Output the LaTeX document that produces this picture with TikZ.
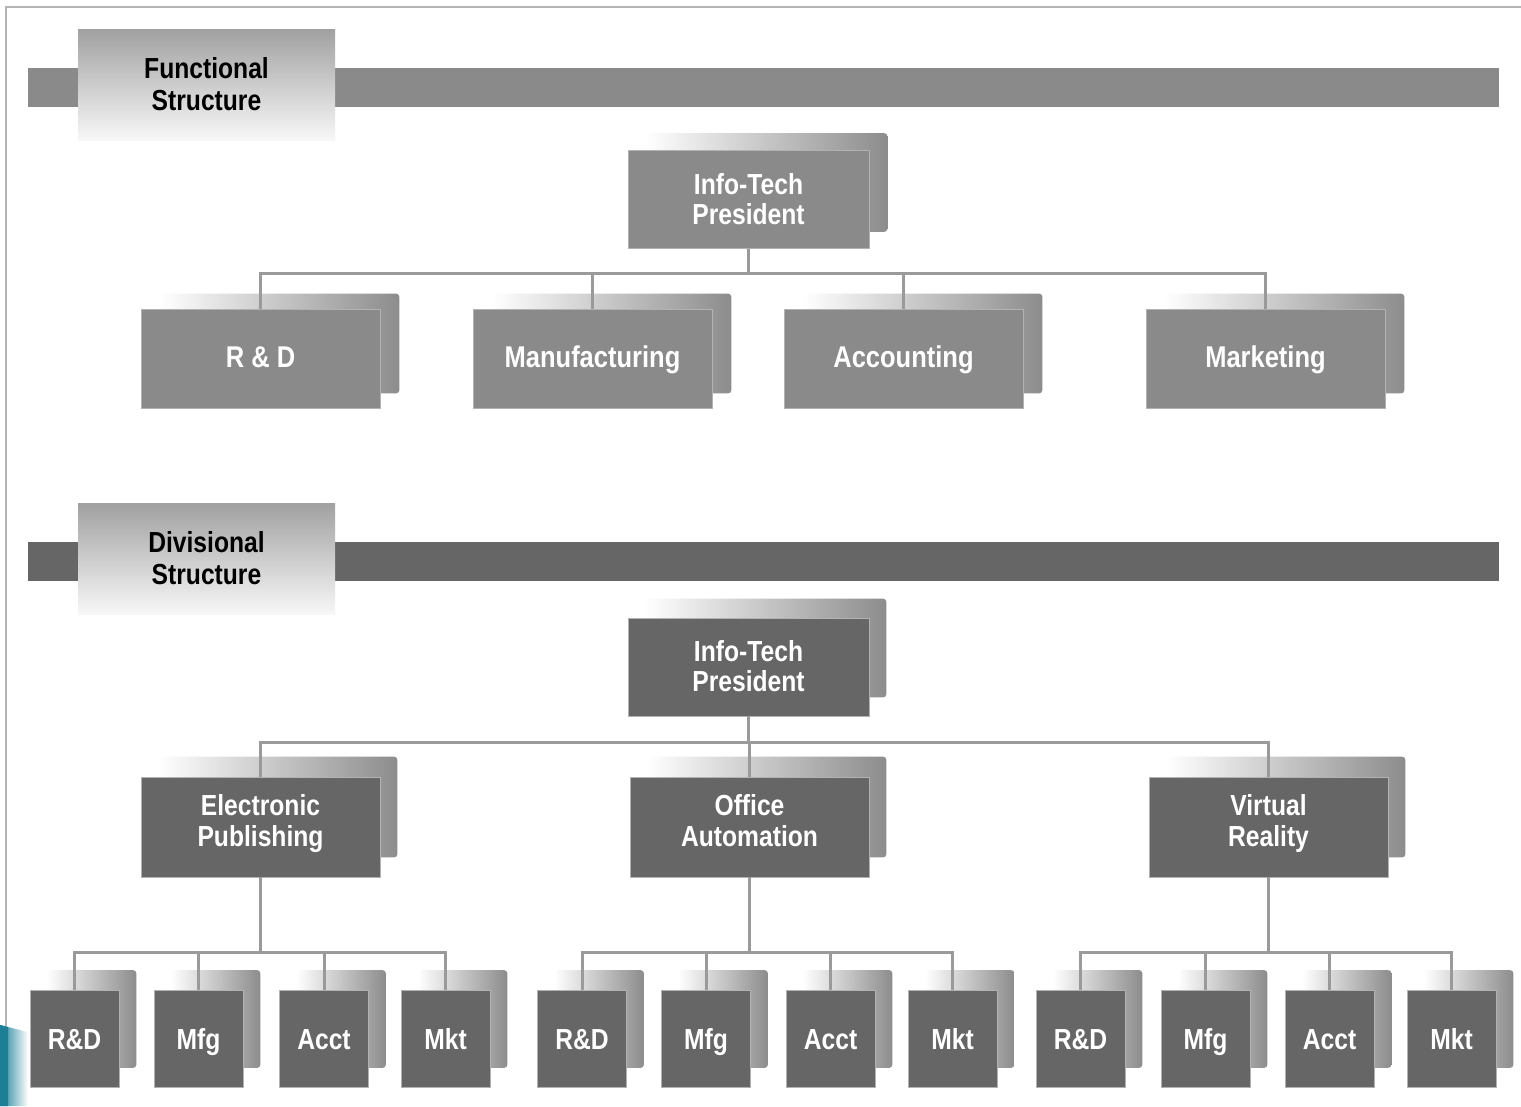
\documentclass[tikz,border=0pt]{standalone}
\usepackage{fontspec}
\setmainfont{Liberation Sans}[FakeStretch=0.85]
\usetikzlibrary{backgrounds}
\definecolor{funcgray}{HTML}{8A8A8A}
\definecolor{divgray}{HTML}{666666}
\definecolor{linegray}{HTML}{9A9A9A}
\definecolor{framegray}{HTML}{B4B4B4}
\definecolor{tealdark}{HTML}{1C7F96}
\definecolor{teallight}{HTML}{9FE3F0}
\tikzset{
  box/.style={rectangle, inner sep=0pt, text=white, align=center,
    font=\bfseries\fontsize{29}{30}\selectfont, draw=black!30, line width=0.6pt},
  funcbox/.style={box, fill=funcgray},
  divbox/.style={box, fill=divgray},
  bigbox/.style={minimum width=241pt, minimum height=98pt, text height=55pt, text depth=6pt},
  unitbox/.style={minimum width=239pt, minimum height=99pt, text height=22pt, text depth=5pt,
    font=\bfseries\fontsize{30}{31}\selectfont},
  divunit/.style={minimum width=239pt, minimum height=100pt, text height=44pt, text depth=6pt,
    font=\bfseries\fontsize{29}{31}\selectfont},
  smallbox/.style={minimum width=89pt, minimum height=97pt, text height=23pt, text depth=3pt},
  titlebox/.style={rectangle, inner sep=0pt, minimum width=257pt, minimum height=111pt,
    top color=black!37, bottom color=black!3, align=center,
    font=\bfseries\fontsize{29}{32}\selectfont, text=black},
  conn/.style={draw=linegray, line width=3pt},
  backshade/.style={left color=white, right color=black!45, rounded corners=3pt},
}
\begin{document}
\begin{tikzpicture}[x=1pt, y=-1pt]
\useasboundingbox (0,0) rectangle (1521,1106);

% page frame
\draw[framegray, line width=2pt] (5.5,1030) -- (5.5,6.5) -- (1521,6.5);

% section bars
\fill[funcgray] (28,68) rectangle (1499,107);
\fill[divgray] (28,542) rectangle (1499,581);

% section titles
\node[titlebox] (ftitle) at (206.5,84.5) {Functional\\Structure};
\node[titlebox] (dtitle) at (206.5,558.5) {Divisional\\Structure};

% ---------- functional structure ----------
\node[funcbox, bigbox] (fp) at (748.5,199.5) {Info-Tech\\President};
\node[funcbox, unitbox] (frd) at (260.5,358.5) {R \& D};
\node[funcbox, unitbox] (fmf) at (592.5,358.5) {Manufacturing};
\node[funcbox, unitbox] (fac) at (903.5,358.5) {Accounting};
\node[funcbox, unitbox] (fmk) at (1265.5,358.5) {Marketing};

% ---------- divisional structure ----------
\node[divbox, bigbox] (dp) at (748.5,667) {Info-Tech\\President};
\node[divbox, divunit] (ep) at (260.5,827) {Electronic\\Publishing};
\node[divbox, divunit] (oa) at (749.5,827) {Office\\Automation};
\node[divbox, divunit] (vr) at (1268.5,827) {Virtual\\Reality};

\foreach \g/\xa/\xb/\xc/\xd in {ep/74.5/198.5/324/445.5, oa/582/706/830.5/952.5, vr/1080.5/1205.5/1329.5/1451.5}{
  \node[divbox, smallbox] (\g1) at (\xa,1039) {R\&D};
  \node[divbox, smallbox] (\g2) at (\xb,1039) {Mfg};
  \node[divbox, smallbox] (\g3) at (\xc,1039) {Acct};
  \node[divbox, smallbox] (\g4) at (\xd,1039) {Mkt};
}

% white page and back plates behind the boxes
\begin{scope}[on background layer]
  \fill[white] (0,0) rectangle (1521,1106);
  \shade[backshade] ([xshift=18pt,yshift=17pt]fp.south west) rectangle ([xshift=18pt,yshift=17pt]fp.north east);
  \foreach \n in {frd,fmf,fac,fmk}
    \shade[backshade] ([xshift=19pt,yshift=15pt]\n.south west) rectangle ([xshift=19pt,yshift=15pt]\n.north east);
  \shade[backshade] ([xshift=17pt,yshift=19pt]dp.south west) rectangle ([xshift=17pt,yshift=19pt]dp.north east);
  \foreach \n in {ep,oa,vr}
    \shade[backshade] ([xshift=17pt,yshift=20pt]\n.south west) rectangle ([xshift=17pt,yshift=20pt]\n.north east);
  \foreach \g in {ep,oa,vr}
    \foreach \k in {1,2,3,4}
      \shade[backshade] ([xshift=17pt,yshift=20pt]\g\k.south west) rectangle ([xshift=17pt,yshift=20pt]\g\k.north east);
\end{scope}

% connectors
\foreach \c in {frd,fmf,fac,fmk}
  \draw[conn] (fp.south) -- ++(0,25) -| (\c.north);
\foreach \c in {ep,oa,vr}
  \draw[conn] (dp.south) -- ++(0,26) -| (\c.north);
\foreach \g in {ep,oa,vr}
  \foreach \k in {1,2,3,4}
    \draw[conn] (\g.south) -- ++(0,75) -| (\g\k.north);

% corner ornament
\shade[left color=tealdark, middle color=teallight!70, right color=white]
  (0,1025) -- (28,1032) -- (28,1106) -- (0,1106) -- cycle;
\fill[tealdark] (0,1025) -- (8,1027) -- (8,1106) -- (0,1106) -- cycle;
\end{tikzpicture}
\end{document}
